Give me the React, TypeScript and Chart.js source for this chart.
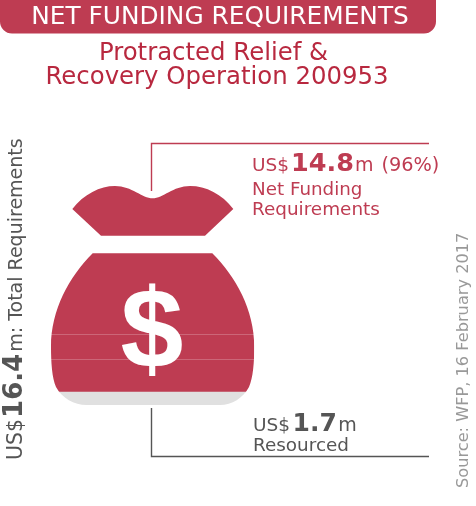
import React, { useEffect, useRef } from "react";
import { Chart, registerables } from "chart.js";

Chart.register(...registerables);

const categories = ["Funding"];
const resourced = [1.7];
const netFunding = [14.8];
const seamTicks = [4.06, 5.85];

const RED = "#BE3C52";
const TITLE = "#B8283F";
const GREY = "#E0E0E0";
const DARK = "#555555";
const SANS = '"DejaVu Sans", sans-serif';

type Run = { t: string; size: number; bold?: boolean; gap?: number };

function runs(ctx: CanvasRenderingContext2D, x: number, y: number, parts: Run[], color: string, rot = 0) {
  ctx.save();
  ctx.translate(x, y);
  ctx.rotate(rot);
  ctx.fillStyle = color;
  ctx.textAlign = "left";
  ctx.textBaseline = "alphabetic";
  let cx = 0;
  for (const p of parts) {
    cx += p.gap ?? 0;
    ctx.font = `${p.bold ? "bold " : ""}${p.size}px ${SANS}`;
    ctx.fillText(p.t, cx, 0);
    cx += ctx.measureText(p.t).width;
  }
  ctx.restore();
}

function bagPath(ctx: CanvasRenderingContext2D) {
  ctx.beginPath();
  ctx.moveTo(72.3, 209);
  ctx.bezierCurveTo(84, 194, 100, 186, 115, 186);
  ctx.bezierCurveTo(132, 186, 142, 198.3, 152.7, 198.3);
  ctx.bezierCurveTo(163, 198.3, 173, 186, 190, 186);
  ctx.bezierCurveTo(206, 186, 222, 194, 233.3, 209);
  ctx.lineTo(205, 235.7);
  ctx.lineTo(101, 235.7);
  ctx.closePath();
  ctx.moveTo(92.7, 253.3);
  ctx.lineTo(212.3, 253.3);
  ctx.bezierCurveTo(236, 277, 254.3, 310, 254.3, 346.7);
  ctx.bezierCurveTo(254.3, 362, 253, 378, 249, 387);
  ctx.bezierCurveTo(243, 398, 232, 405, 220, 405);
  ctx.lineTo(86.7, 405);
  ctx.bezierCurveTo(74, 405, 62, 398, 56, 387);
  ctx.bezierCurveTo(52, 378, 51, 362, 51, 346.7);
  ctx.bezierCurveTo(51, 310, 69, 277, 92.7, 253.3);
  ctx.closePath();
}

const bagClip = {
  id: "bagClip",
  beforeDatasetsDraw(chart: Chart) {
    const ctx = chart.ctx;
    ctx.save();
    bagPath(ctx);
    ctx.clip();
  },
  afterDatasetsDraw(chart: Chart) {
    chart.ctx.restore();
  },
};

const decor = {
  id: "decor",
  afterDraw(chart: Chart) {
    const ctx = chart.ctx;
    ctx.save();
    // header
    ctx.fillStyle = RED;
    ctx.beginPath();
    ctx.roundRect(0, -14, 436, 47.5, 12);
    ctx.fill();
    ctx.textAlign = "center";
    ctx.textBaseline = "alphabetic";
    ctx.fillStyle = "#FFFFFF";
    ctx.font = `24.8px ${SANS}`;
    ctx.fillText("NET FUNDING REQUIREMENTS", 220, 24);
    ctx.fillStyle = TITLE;
    ctx.font = `24.4px ${SANS}`;
    ctx.fillText("Protracted Relief &", 213.5, 60);
    ctx.fillText("Recovery Operation 200953", 217, 84);
    // dollar
    ctx.fillStyle = "#FFFFFF";
    ctx.font = `bold 113px "Liberation Sans", sans-serif`;
    ctx.fillText("$", 152, 368);
    // leaders
    ctx.lineWidth = 1.4;
    ctx.strokeStyle = RED;
    ctx.beginPath();
    ctx.moveTo(151.5, 191);
    ctx.lineTo(151.5, 143.5);
    ctx.lineTo(429, 143.5);
    ctx.stroke();
    ctx.strokeStyle = DARK;
    ctx.beginPath();
    ctx.moveTo(151.5, 408);
    ctx.lineTo(151.5, 456.5);
    ctx.lineTo(429, 456.5);
    ctx.stroke();
    ctx.restore();
    // callouts
    runs(ctx, 252, 171, [
      { t: "US$", size: 18.5 },
      { t: "14.8", size: 25.5, bold: true, gap: 2 },
      { t: "m", size: 19, gap: 1 },
      { t: "(96%)", size: 19.3, gap: 8 },
    ], RED);
    runs(ctx, 252, 195, [{ t: "Net Funding", size: 18.3 }], RED);
    runs(ctx, 252, 215, [{ t: "Requirements", size: 18.4 }], RED);
    runs(ctx, 253, 431, [
      { t: "US$", size: 18.5 },
      { t: "1.7", size: 25, bold: true, gap: 2.5 },
      { t: "m", size: 19, gap: 1.5 },
    ], DARK);
    runs(ctx, 253, 451, [{ t: "Resourced", size: 18.4 }], DARK);
    runs(ctx, 21.5, 460, [
      { t: "US$", size: 20.5 },
      { t: "16.4", size: 26, bold: true, gap: 1 },
      { t: "m: Total Requirements", size: 19, gap: 2 },
    ], DARK, -Math.PI / 2);
    runs(ctx, 468, 488, [{ t: "Source: WFP, 16 February 2017", size: 16.2 }], "#999999", -Math.PI / 2);
  },
};

export default function App() {
  const ref = useRef<HTMLCanvasElement>(null);
  useEffect(() => {
    const chart = new Chart(ref.current!, {
      type: "bar",
      data: {
        labels: categories,
        datasets: [
          { label: "Resourced", data: resourced, backgroundColor: GREY, stack: "s", barPercentage: 1, categoryPercentage: 1 },
          { label: "Net Funding Requirements", data: netFunding, backgroundColor: RED, stack: "s", barPercentage: 1, categoryPercentage: 1 },
        ],
      },
      options: {
        animation: false,
        responsive: false,
        devicePixelRatio: 1,
        layout: { padding: { left: 51, right: 221.7, top: 186, bottom: 90.3 } },
        plugins: { legend: { display: false }, title: { display: false }, tooltip: { enabled: false } },
        scales: {
          x: { display: false, stacked: true },
          y: {
            stacked: true,
            min: 0,
            max: resourced[0] + netFunding[0],
            afterFit: (s: any) => { s.width = 0; },
            afterBuildTicks: (s: any) => { s.ticks = seamTicks.map((value) => ({ value })); },
            ticks: { display: false },
            border: { display: false },
            grid: { color: "rgba(255,255,255,0.22)", z: 1, drawTicks: false, lineWidth: 1 },
          },
        },
      },
      plugins: [bagClip, decor],
    } as any);
    return () => chart.destroy();
  }, []);
  return (
    <canvas
      ref={ref}
      width={476}
      height={506}
      style={{ position: "absolute", left: 0, top: 0, width: 476, height: 506 }}
    />
  );
}
